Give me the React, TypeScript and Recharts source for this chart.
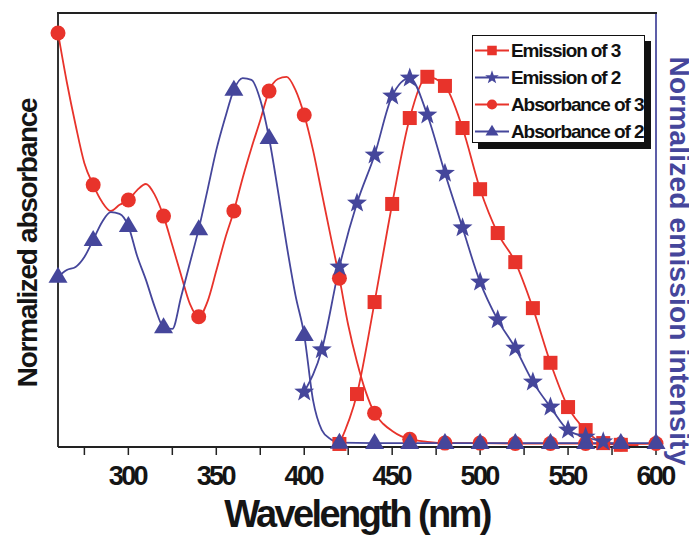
import { ComposedChart, Line, XAxis, YAxis, ReferenceLine, Legend } from 'recharts';

const RED = '#e8332b';
const BLUE = '#45469b';
const FONT = '"Liberation Sans", Arial, Helvetica, sans-serif';

// x axis
const xTicks = [275, 300, 325, 350, 375, 400, 425, 450, 475, 500, 525, 550, 575, 600];
const xLabels = [300, 350, 400, 450, 500, 550, 600];

// absorbance of 3 (red circles)
const abs3: [number, number][] = [
  [260, 0.954], [265, 0.841], [270, 0.742], [275, 0.654], [280, 0.604], [285, 0.565],
  [290, 0.544], [295, 0.558], [300, 0.569], [305, 0.592], [310, 0.606], [315, 0.581],
  [320, 0.532], [325, 0.465], [330, 0.396], [335, 0.33], [340, 0.3], [345, 0.335],
  [350, 0.406], [355, 0.48], [360, 0.544], [365, 0.62], [370, 0.689], [375, 0.753],
  [380, 0.82], [385, 0.848], [390, 0.853], [395, 0.823], [400, 0.765], [405, 0.684],
  [410, 0.585], [415, 0.486], [420, 0.389], [425, 0.281], [430, 0.196], [435, 0.127],
  [440, 0.078], [445, 0.053], [450, 0.037], [455, 0.025], [460, 0.018], [470, 0.012],
  [480, 0.009], [500, 0.009], [520, 0.008], [540, 0.008], [560, 0.008], [580, 0.007], [600, 0.008],
];
const abs3Marks = [260, 280, 300, 320, 340, 360, 380, 400, 420, 440, 460, 480, 500, 520, 540, 560, 580, 600];

// absorbance of 2 (blue triangles)
const abs2: [number, number][] = [
  [260, 0.392], [265, 0.408], [270, 0.415], [275, 0.438], [280, 0.477], [285, 0.518],
  [290, 0.541], [295, 0.537], [300, 0.509], [305, 0.44], [310, 0.385], [315, 0.323],
  [320, 0.276], [325, 0.272], [330, 0.346], [335, 0.424], [340, 0.502], [345, 0.592],
  [350, 0.684], [355, 0.758], [360, 0.823], [365, 0.85], [370, 0.846], [375, 0.8],
  [380, 0.712], [385, 0.592], [390, 0.465], [395, 0.35], [400, 0.258], [405, 0.108],
  [410, 0.039], [415, 0.018], [420, 0.01], [440, 0.009], [460, 0.009], [480, 0.009],
  [500, 0.009], [520, 0.009], [540, 0.009], [560, 0.009], [580, 0.009], [600, 0.009],
];
const abs2Marks = [260, 280, 300, 320, 340, 360, 380, 400, 420, 440, 460, 480, 500, 520, 540, 560, 580, 600];

// emission of 3 (red squares)
const em3: [number, number][] = [
  [420, 0.007], [430, 0.122], [440, 0.334], [450, 0.56], [460, 0.758], [470, 0.853],
  [480, 0.832], [490, 0.735], [500, 0.594], [510, 0.493], [520, 0.426], [530, 0.32],
  [540, 0.194], [550, 0.092], [560, 0.039], [570, 0.009], [580, 0.005], [590, 0.004],
];
const em3Marks = [420, 430, 440, 450, 460, 470, 480, 490, 500, 510, 520, 530, 540, 550, 560, 570, 580];

// emission of 2 (blue stars)
const em2: [number, number][] = [
  [400, 0.127], [410, 0.224], [420, 0.415], [430, 0.562], [440, 0.673], [450, 0.809],
  [460, 0.85], [470, 0.765], [480, 0.631], [490, 0.505], [500, 0.38], [510, 0.293],
  [520, 0.228], [530, 0.15], [540, 0.092], [550, 0.039], [560, 0.023], [570, 0.012], [580, 0.005],
];
const em2Marks = [400, 410, 420, 430, 440, 450, 460, 470, 480, 490, 500, 510, 520, 530, 540, 550, 560, 570];

type Shape = 'circle' | 'square' | 'triangle' | 'star';

const series = [
  { name: 'Absorbance of 3', pts: abs3, marks: abs3Marks, color: RED, shape: 'circle' as Shape },
  { name: 'Emission of 3', pts: em3, marks: em3Marks, color: RED, shape: 'square' as Shape },
  { name: 'Absorbance of 2', pts: abs2, marks: abs2Marks, color: BLUE, shape: 'triangle' as Shape },
  { name: 'Emission of 2', pts: em2, marks: em2Marks, color: BLUE, shape: 'star' as Shape },
];
const legendOrder = ['Emission of 3', 'Emission of 2', 'Absorbance of 3', 'Absorbance of 2'];

function Marker({ shape, color, x, y, s = 1 }: { shape: Shape; color: string; x: number; y: number; s?: number }) {
  if (shape === 'circle') return <circle cx={x} cy={y} r={7.5 * s} fill={color} />;
  if (shape === 'square') return <rect x={x - 7 * s} y={y - 7 * s} width={14 * s} height={14 * s} fill={color} />;
  if (shape === 'triangle') {
    return <polygon points={`${x},${y - 10 * s} ${x - 9.5 * s},${y + 6 * s} ${x + 9.5 * s},${y + 6 * s}`} fill={color} />;
  }
  const p: string[] = [];
  for (let i = 0; i < 10; i++) {
    const r = (i % 2 === 0 ? 10.5 : 4.3) * s;
    const a = -Math.PI / 2 + (i * Math.PI) / 5;
    p.push(`${x + r * Math.cos(a)},${y + r * Math.sin(a)}`);
  }
  return <polygon points={p.join(' ')} fill={color} />;
}

const makeDot = (shape: Shape, color: string, marks: number[]) => (props: any) => {
  const { cx, cy, payload, index } = props;
  if (cx == null || cy == null || !marks.includes(payload.nm)) return <g key={index} />;
  return <Marker key={index} shape={shape} color={color} x={cx} y={cy} />;
};

const renderTick = (props: any) => {
  const { x, y, payload } = props;
  if (!xLabels.includes(payload.value)) return <g />;
  return (
    <text x={x - 1} y={y + 28} textAnchor="middle" fontSize={27} fontWeight="bold" letterSpacing={-2.6} fill="#151515" fontFamily={FONT}>
      {payload.value}
    </text>
  );
};

const renderLegend = () => (
  <div
    style={{
      width: 173,
      height: 108,
      boxSizing: 'border-box',
      border: '1.5px solid #111',
      background: '#fff',
      boxShadow: '6px 6px 0 #111',
      paddingTop: 1,
    }}
  >
    {legendOrder.map((n) => {
      const s = series.find((d) => d.name === n)!;
      return (
        <div key={n} style={{ display: 'flex', alignItems: 'center', height: 27 }}>
          <svg width={38} height={27} style={{ flex: 'none' }}>
            <line x1={2} x2={36} y1={13.5} y2={13.5} stroke={s.color} strokeWidth={1.8} />
            <Marker shape={s.shape} color={s.color} x={19} y={13.5} s={0.68} />
          </svg>
          <span style={{ fontFamily: FONT, fontSize: 19, fontWeight: 'bold', letterSpacing: -1.1, color: '#111', whiteSpace: 'nowrap' }}>{n}</span>
        </div>
      );
    })}
  </div>
);

export default function App() {
  return (
    <div style={{ position: 'relative', width: 689, height: 528 }}>
      <ComposedChart width={689} height={528} margin={{ top: 5, right: 41, bottom: 0, left: 50 }}>
        <XAxis
          dataKey="nm"
          type="number"
          domain={[260, 600]}
          ticks={xTicks}
          interval={0}
          tickSize={8}
          height={89}
          axisLine={{ stroke: '#222', strokeWidth: 2 }}
          tickLine={{ stroke: '#222', strokeWidth: 1.5 }}
          tick={renderTick}
          label={{
            content: () => (
              <text x={349} y={519} textAnchor="middle" fontSize={38} fontWeight="bold" letterSpacing={-2.6} fill="#151515" fontFamily={FONT}>
                Wavelength (nm)
              </text>
            ),
          }}
        />
        <YAxis hide type="number" domain={[0, 1]} />
        <ReferenceLine
          x={260}
          stroke="#333"
          strokeWidth={2}
          label={{
            content: () => (
              <text transform="translate(29,235) rotate(-90)" textAnchor="middle" fontSize={28} fontWeight="bold" letterSpacing={-1.3} fill="#151515" fontFamily={FONT}>
                Normalized absorbance
              </text>
            ),
          }}
        />
        <ReferenceLine
          x={600}
          stroke="#5d5ea8"
          strokeWidth={2}
          label={{
            content: () => (
              <text transform="translate(662,253) rotate(90)" textAnchor="middle" fontSize={28} fontWeight="bold" letterSpacing={0.2} fill={BLUE} fontFamily={FONT}>
                Normalized emission intensity
              </text>
            ),
          }}
        />
        {series.map((s) => (
          <Line
            key={s.name}
            name={s.name}
            data={s.pts.map(([nm, v]) => ({ nm, v }))}
            dataKey="v"
            type="monotone"
            stroke={s.color}
            strokeWidth={1.8}
            dot={makeDot(s.shape, s.color, s.marks)}
            activeDot={false}
            isAnimationActive={false}
          />
        ))}
        <Legend
          layout="vertical"
          align="center"
          verticalAlign="middle"
          content={renderLegend}
          wrapperStyle={{ left: 464, top: 27, width: 'auto', height: 'auto' }}
        />
      </ComposedChart>
      {/* top edge of the plot frame */}
      <div style={{ position: 'absolute', left: 49, top: 4, width: 600, height: 2, background: '#222' }} />
    </div>
  );
}
